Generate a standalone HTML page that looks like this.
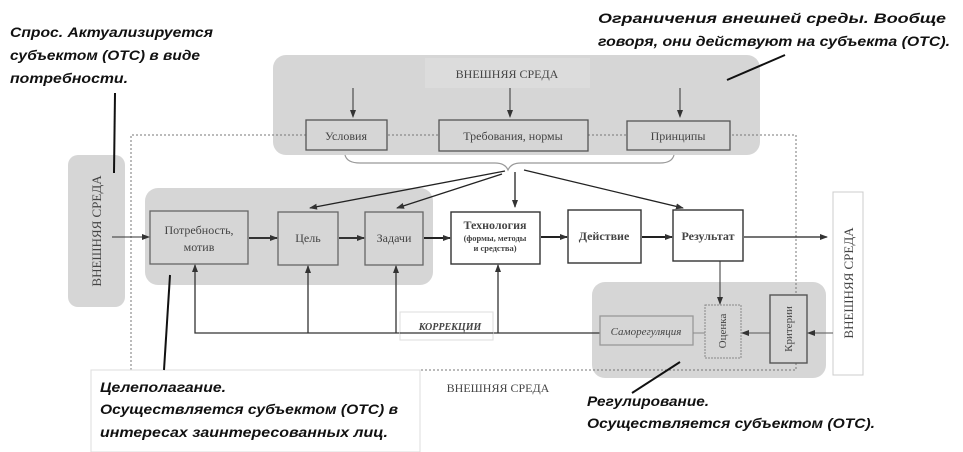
<!DOCTYPE html>
<html><head><meta charset="utf-8"><style>
html,body{margin:0;padding:0;background:#fff;}
svg{display:block;}
.a{font-family:"Liberation Sans","Noto Sans CJK SC",sans-serif;font-weight:bold;font-style:italic;font-size:14px;fill:#111;}
.s{font-family:"Liberation Serif","Noto Serif CJK SC",serif;fill:#444;}
</style></head><body>
<svg width="963" height="452" viewBox="0 0 963 452" xmlns="http://www.w3.org/2000/svg">
<defs>
<marker id="ar" markerWidth="8" markerHeight="8" refX="7" refY="4" orient="auto" markerUnits="userSpaceOnUse"><path d="M0,1 L8,4 L0,7 z" fill="#333"/></marker>
</defs>
<!-- gray panels -->
<rect x="273" y="55" width="487" height="100" rx="13" fill="#d6d6d6"/>
<rect x="425" y="58" width="165" height="30" fill="#dcdcdc"/>
<rect x="145" y="188" width="288" height="97" rx="13" fill="#d6d6d6"/>
<rect x="68" y="155" width="57" height="152" rx="10" fill="#d6d6d6"/>
<rect x="592" y="282" width="234" height="96" rx="13" fill="#d6d6d6"/>
<!-- dashed outline -->
<path d="M131,370 L131,135 L796,135 L796,370 L131,370" fill="none" stroke="#777" stroke-dasharray="2,2"/>
<!-- top text + arrows -->
<text x="507" y="78" text-anchor="middle" class="s" font-size="12">ВНЕШНЯЯ СРЕДА</text>
<line x1="353" y1="88" x2="353" y2="117" stroke="#333" marker-end="url(#ar)"/>
<line x1="510" y1="88" x2="510" y2="117" stroke="#333" marker-end="url(#ar)"/>
<line x1="680" y1="88" x2="680" y2="117" stroke="#333" marker-end="url(#ar)"/>
<rect x="306" y="120" width="81" height="30" fill="#d6d6d6" stroke="#555" stroke-width="1.3"/>
<rect x="439" y="120" width="149" height="31" fill="#d6d6d6" stroke="#555" stroke-width="1.3"/>
<rect x="627" y="121" width="103" height="29" fill="#d6d6d6" stroke="#555" stroke-width="1.3"/>
<text x="346" y="140" text-anchor="middle" class="s" font-size="12">Условия</text>
<text x="513" y="140" text-anchor="middle" class="s" font-size="12">Требования, нормы</text>
<text x="678" y="140" text-anchor="middle" class="s" font-size="12">Принципы</text>
<!-- brace -->
<path d="M345,155 Q347,163 360,163 L495,163 Q505,163 508,170 Q511,163 521,163 L660,163 Q672,163 674,155" fill="none" stroke="#999" stroke-width="1.2"/>
<!-- brace arrows -->
<line x1="505" y1="171" x2="310" y2="208" stroke="#222" stroke-width="1.3" marker-end="url(#ar)"/>
<line x1="502" y1="174" x2="397" y2="208" stroke="#222" stroke-width="1.3" marker-end="url(#ar)"/>
<line x1="515" y1="172" x2="515" y2="207" stroke="#222" stroke-width="1.3" marker-end="url(#ar)"/>
<line x1="524" y1="170" x2="683" y2="208" stroke="#222" stroke-width="1.3" marker-end="url(#ar)"/>
<!-- main boxes -->
<rect x="150" y="211" width="98" height="53" fill="#d6d6d6" stroke="#666" stroke-width="1.3"/>
<text x="199" y="234" text-anchor="middle" class="s" font-size="12">Потребность,</text>
<text x="199" y="251" text-anchor="middle" class="s" font-size="12">мотив</text>
<rect x="278" y="212" width="60" height="53" fill="#d6d6d6" stroke="#666" stroke-width="1.3"/>
<text x="308" y="242" text-anchor="middle" class="s" font-size="12">Цель</text>
<rect x="365" y="212" width="58" height="53" fill="#d6d6d6" stroke="#666" stroke-width="1.3"/>
<text x="394" y="242" text-anchor="middle" class="s" font-size="12">Задачи</text>
<rect x="451" y="212" width="89" height="52" fill="#fff" stroke="#333" stroke-width="1.4"/>
<text x="495" y="229" text-anchor="middle" class="s" font-size="12" font-weight="bold" fill="#222">Технология</text>
<text x="495" y="241" text-anchor="middle" class="s" font-size="8.5" font-weight="bold" fill="#222">(формы, методы</text>
<text x="495" y="251" text-anchor="middle" class="s" font-size="8.5" font-weight="bold" fill="#222">и средства)</text>
<rect x="568" y="210" width="73" height="53" fill="#fff" stroke="#333" stroke-width="1.4"/>
<text x="604" y="240" text-anchor="middle" class="s" font-size="12" font-weight="bold" fill="#222">Действие</text>
<rect x="673" y="210" width="70" height="51" fill="#fff" stroke="#333" stroke-width="1.4"/>
<text x="708" y="240" text-anchor="middle" class="s" font-size="12" font-weight="bold" fill="#222">Результат</text>
<!-- main flow arrows -->
<line x1="112" y1="237" x2="149" y2="237" stroke="#333" marker-end="url(#ar)"/>
<line x1="249" y1="238" x2="277" y2="238" stroke="#333" stroke-width="2" marker-end="url(#ar)"/>
<line x1="339" y1="238" x2="364" y2="238" stroke="#333" stroke-width="2" marker-end="url(#ar)"/>
<line x1="424" y1="238" x2="450" y2="238" stroke="#222" stroke-width="2" marker-end="url(#ar)"/>
<line x1="541" y1="237" x2="567" y2="237" stroke="#222" stroke-width="2" marker-end="url(#ar)"/>
<line x1="642" y1="237" x2="672" y2="237" stroke="#222" stroke-width="2" marker-end="url(#ar)"/>
<line x1="744" y1="237" x2="827" y2="237" stroke="#222" stroke-width="1.3" marker-end="url(#ar)"/>
<!-- left env -->
<text transform="translate(101,231) rotate(-90)" text-anchor="middle" class="s" font-size="13">ВНЕШНЯЯ СРЕДА</text>
<!-- right env -->
<rect x="833" y="192" width="30" height="183" fill="#fff" stroke="#ccc"/>
<text transform="translate(853,283) rotate(-90)" text-anchor="middle" class="s" font-size="13" fill="#222">ВНЕШНЯЯ СРЕДА</text>
<!-- feedback -->
<polyline points="600,333 195,333 195,265" fill="none" stroke="#333" stroke-width="1.3" marker-end="url(#ar)"/>
<line x1="308" y1="333" x2="308" y2="266" stroke="#333" stroke-width="1.3" marker-end="url(#ar)"/>
<line x1="396" y1="333" x2="396" y2="266" stroke="#333" stroke-width="1.3" marker-end="url(#ar)"/>
<line x1="498" y1="333" x2="498" y2="265" stroke="#333" stroke-width="1.3" marker-end="url(#ar)"/>
<rect x="400" y="312" width="93" height="28" fill="#fff" stroke="#ddd"/>
<line x1="400" y1="333" x2="493" y2="333" stroke="#333" stroke-width="1.3"/>
<text x="450" y="330" text-anchor="middle" class="s" font-size="10" font-style="italic" font-weight="bold" fill="#555">КОРРЕКЦИИ</text>
<!-- regulation -->
<rect x="600" y="316" width="93" height="29" fill="#d6d6d6" stroke="#999" stroke-width="1.3"/>
<text x="646" y="335" text-anchor="middle" class="s" font-size="11" font-style="italic" fill="#888">Саморегуляция</text>
<line x1="693" y1="333" x2="705" y2="333" stroke="#888"/>
<rect x="705" y="305" width="36" height="53" fill="#d6d6d6" stroke="#888" stroke-dasharray="2,1"/>
<text transform="translate(726,331) rotate(-90)" text-anchor="middle" class="s" font-size="11" fill="#777">Оценка</text>
<rect x="770" y="295" width="37" height="68" fill="#d6d6d6" stroke="#555" stroke-width="1.4"/>
<text transform="translate(792,329) rotate(-90)" text-anchor="middle" class="s" font-size="11" fill="#555">Критерии</text>
<line x1="720" y1="261" x2="720" y2="304" stroke="#333" marker-end="url(#ar)"/>
<line x1="770" y1="333" x2="742" y2="333" stroke="#555" marker-end="url(#ar)"/>
<line x1="833" y1="333" x2="808" y2="333" stroke="#555" marker-end="url(#ar)"/>
<!-- bottom env -->
<rect x="420" y="372" width="170" height="30" fill="#fff"/>
<text x="498" y="392" text-anchor="middle" class="s" font-size="12">ВНЕШНЯЯ СРЕДА</text>
<!-- annotations -->
<rect x="91" y="370" width="329" height="82" fill="#fff" stroke="#ddd"/>
<text x="100" y="392" class="a" textLength="126" lengthAdjust="spacingAndGlyphs">Целеполагание.</text>
<text x="100" y="414" class="a" textLength="298" lengthAdjust="spacingAndGlyphs">Осуществляется субъектом (ОТС) в</text>
<text x="100" y="437" class="a" textLength="288" lengthAdjust="spacingAndGlyphs">интересах заинтересованных лиц.</text>
<line x1="170" y1="275" x2="164" y2="370" stroke="#111" stroke-width="2"/>
<text x="10" y="37" class="a" textLength="203" lengthAdjust="spacingAndGlyphs">Спрос. Актуализируется</text>
<text x="10" y="60" class="a" textLength="190" lengthAdjust="spacingAndGlyphs">субъектом (ОТС) в виде</text>
<text x="10" y="83" class="a" textLength="118" lengthAdjust="spacingAndGlyphs">потребности.</text>
<line x1="115" y1="93" x2="114" y2="173" stroke="#111" stroke-width="2"/>
<text x="598" y="23" class="a" textLength="348" lengthAdjust="spacingAndGlyphs">Ограничения внешней среды. Вообще</text>
<text x="598" y="46" class="a" textLength="352" lengthAdjust="spacingAndGlyphs">говоря, они действуют на субъекта (ОТС).</text>
<line x1="785" y1="55" x2="727" y2="80" stroke="#111" stroke-width="2"/>
<text x="587" y="406" class="a" textLength="122" lengthAdjust="spacingAndGlyphs">Регулирование.</text>
<text x="587" y="428" class="a" textLength="288" lengthAdjust="spacingAndGlyphs">Осуществляется субъектом (ОТС).</text>
<line x1="680" y1="362" x2="632" y2="393" stroke="#111" stroke-width="2"/>
</svg>
</body></html>
